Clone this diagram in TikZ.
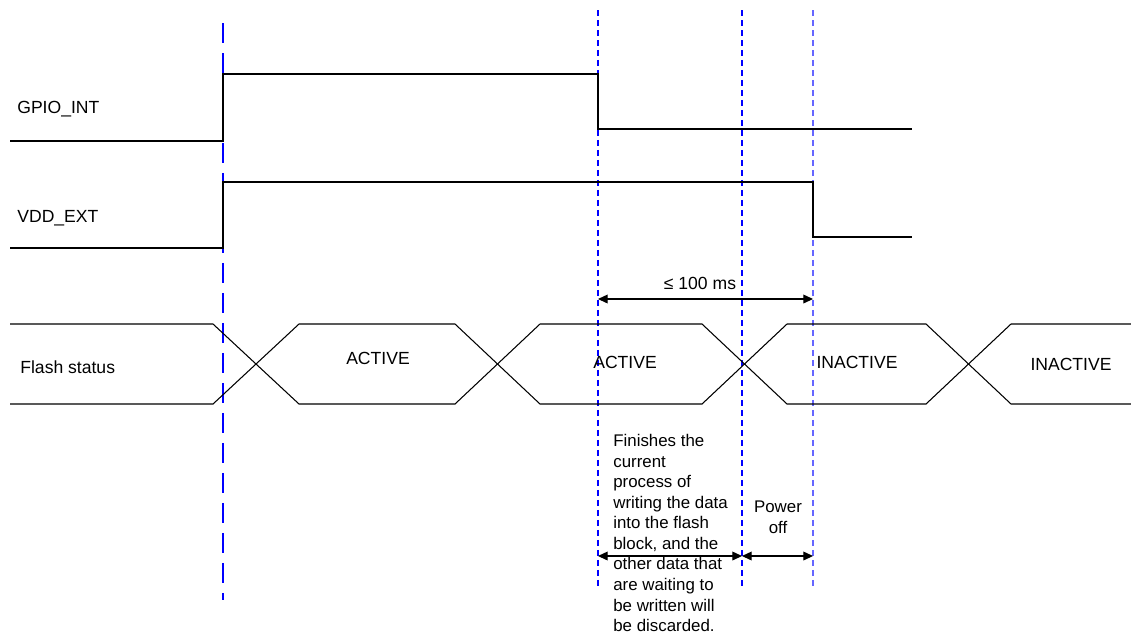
\documentclass[tikz,border=0pt]{standalone}
\usepackage{fontspec}
\setmainfont{Liberation Sans}
\usetikzlibrary{arrows.meta}
\begin{document}
\begin{tikzpicture}[x=0.02cm, y=-0.02cm, >={Triangle[length=5.5pt,width=5pt]},
  sig/.style={line width=0.6pt},
  guide/.style={blue, line width=0.6pt, dash pattern=on 0.12cm off 0.08cm},
  lbl/.style={inner sep=0, font=\fontsize{10}{12}\selectfont},
  note/.style={inner sep=0, font=\fontsize{9.6}{11.7}\selectfont}]
\useasboundingbox (0,0) rectangle (1131,637);
% guide lines
\draw[blue, line width=0.6pt, dash pattern=on 0.4cm off 0.2cm](223,23)--(223,600);
\draw[guide](598,10)--(598,588);
\draw[guide](742,10)--(742,588);
\draw[guide, blue!60](813,10)--(813,588);
% signals
\node[lbl, anchor=base west] (gpio) at (17,113) {GPIO\_INT};
\draw[sig](10,141)--(223,141)--(223,74)--(598,74)--(598,129)--(912,129);
\node[lbl, anchor=base west] (vdd) at (17,222) {VDD\_EXT};
\draw[sig](10,248)--(223,248)--(223,182)--(813,182)--(813,237)--(912,237);
\node[lbl, anchor=base west] (flash) at (20,373) {Flash status};
\draw[sig](10,324)--(213,324)--(299,404)--(455,404)--(540,324)--(702,324)--(787,404)--(926,404)--(1011,324)--(1131,324);
\draw[sig](10,404)--(213,404)--(299,324)--(455,324)--(540,404)--(702,404)--(787,324)--(926,324)--(1011,404)--(1131,404);
\node[lbl, anchor=base] (act1) at (378,364) {ACTIVE};
\node[lbl, anchor=base] (act2) at (625,368) {ACTIVE};
\node[lbl, anchor=base] (inact1) at (857,368) {INACTIVE};
\node[lbl, anchor=base] (inact2) at (1071,370) {INACTIVE};
% timing
\coordinate (t1) at (598,299);
\coordinate (t3) at (813,299);
\draw[<->, line width=0.6pt](t1)--(t3);
\node[lbl, anchor=base] (lim) at (700,289) {≤ 100 ms};
\coordinate (w1) at (598,556);
\coordinate (w2) at (742,556);
\coordinate (w3) at (813,556);
\draw[<->, line width=0.6pt](w1)--(w2);
\draw[<->, line width=0.6pt](w2)--(w3);
\node[note, anchor=north west, align=left] (finish) at (613,434) {Finishes the\\current\\process of\\writing the data\\into the flash\\block, and the\\other data that\\are waiting to\\be written will\\be discarded.};
\node[note, anchor=north, align=center] (poff) at (778,501) {Power\\off};
\end{tikzpicture}
\end{document}
